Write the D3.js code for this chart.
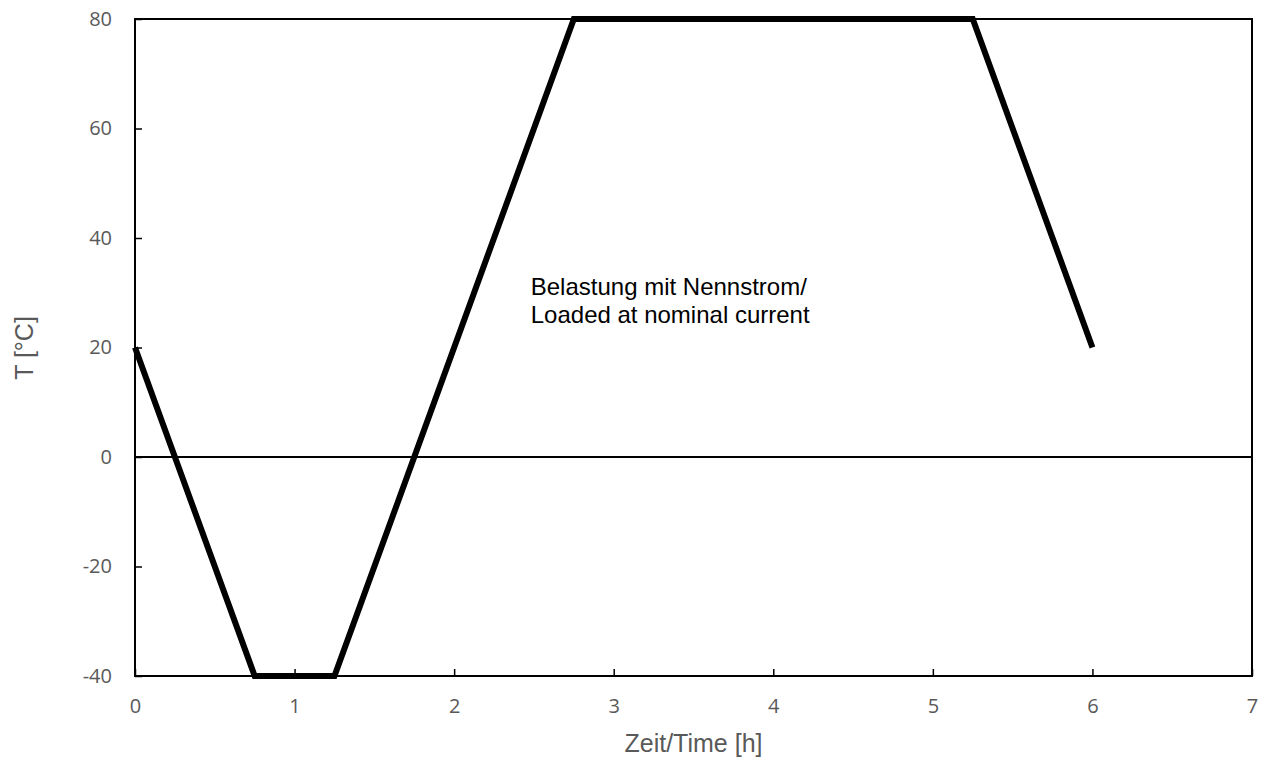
<!DOCTYPE html>
<html>
<head>
<meta charset="utf-8">
<script src="https://cdn.jsdelivr.net/npm/d3@7"></script>
<style>
  body { margin: 0; background: #fff; }
</style>
</head>
<body>
<svg id="chart"></svg>
<script>
const width = 1265;
const height = 766;
const margin = {left: 135, right: 13, top: 19, bottom: 90};

// Data: time [h] vs temperature [°C]
const time_h = [0, 0.75, 1.25, 2.75, 5.25, 6];
const temp_c = [20, -40, -40, 80, 80, 20];
const x_ticks = [0, 1, 2, 3, 4, 5, 6, 7];
const y_ticks = [-40, -20, 0, 20, 40, 60, 80];
const note_lines = ["Belastung mit Nennstrom/", "Loaded at nominal current"];

const tick_font = '"Open Sans", sans-serif';
const label_font = '"Liberation Sans", Arial, sans-serif';

const svg = d3.select('#chart')
    .attr('width', width)
    .attr('height', height);

const x = d3.scaleLinear().domain([0, 7]).range([margin.left, width - margin.right]);
const y = d3.scaleLinear().domain([-40, 80]).range([height - margin.bottom, margin.top]);

// x axis, ticks pointing inward
const xAxis = svg.append('g')
    .attr('transform', `translate(0, ${y(-40)})`)
    .call(d3.axisBottom(x).tickValues(x_ticks).tickFormat(d => String(d))
        .tickSizeInner(-7).tickSizeOuter(0).tickPadding(23));
xAxis.select('.domain').remove();
xAxis.selectAll('line').attr('stroke', '#000').attr('stroke-width', 1.5);
xAxis.selectAll('text')
    .attr('fill', '#595959')
    .style('font-family', tick_font)
    .style('font-size', '20px');

// y axis, ticks pointing inward
const yAxis = svg.append('g')
    .attr('transform', `translate(${x(0)}, 0)`)
    .call(d3.axisLeft(y).tickValues(y_ticks).tickFormat(d => String(d))
        .tickSizeInner(-7).tickSizeOuter(0).tickPadding(23));
yAxis.select('.domain').remove();
yAxis.selectAll('line').attr('stroke', '#000').attr('stroke-width', 1.5);
yAxis.selectAll('text')
    .attr('fill', '#595959')
    .style('font-family', tick_font)
    .style('font-size', '20px');

// plot frame
svg.append('rect')
    .attr('x', x(0))
    .attr('y', y(80))
    .attr('width', x(7) - x(0))
    .attr('height', y(-40) - y(80))
    .attr('fill', 'none')
    .attr('stroke', '#000')
    .attr('stroke-width', 2);

// zero line
svg.append('line')
    .attr('x1', x(0)).attr('x2', x(7))
    .attr('y1', y(0)).attr('y2', y(0))
    .attr('stroke', '#000')
    .attr('stroke-width', 2);

// temperature profile
const line = d3.line()
    .x((d, i) => x(time_h[i]))
    .y(d => y(d));

svg.append('path')
    .datum(temp_c)
    .attr('d', line)
    .attr('fill', 'none')
    .attr('stroke', '#000')
    .attr('stroke-width', 6)
    .attr('stroke-linejoin', 'miter');

// annotation
svg.append('text')
    .attr('x', x(2.48))
    .attr('y', 295)
    .style('font-family', label_font)
    .style('font-size', '24px')
    .attr('fill', '#000')
    .selectAll('tspan')
    .data(note_lines)
    .enter().append('tspan')
        .attr('x', x(2.48))
        .attr('dy', (d, i) => i === 0 ? 0 : 28)
        .text(d => d);

// axis titles
svg.append('text')
    .attr('x', (x(0) + x(7)) / 2)
    .attr('y', 752)
    .attr('text-anchor', 'middle')
    .attr('fill', '#595959')
    .style('font-family', label_font)
    .style('font-size', '25px')
    .text('Zeit/Time [h]');

svg.append('text')
    .attr('transform', `translate(33, 348) rotate(-90)`)
    .attr('text-anchor', 'middle')
    .attr('fill', '#595959')
    .style('font-family', label_font)
    .style('font-size', '25px')
    .text('T [°C]');
</script>
</body>
</html>
